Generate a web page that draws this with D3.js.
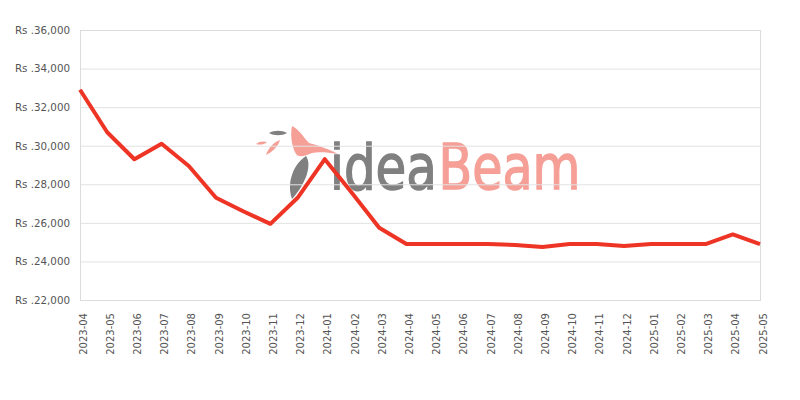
<!DOCTYPE html>
<html><head><meta charset="utf-8">
<script src="https://cdn.jsdelivr.net/npm/d3@7"></script>
<style>body{margin:0;background:#fff}svg{display:block}</style>
</head><body><svg id="c" width="800" height="400"></svg>
<script>
const months = ["2023-04","2023-05","2023-06","2023-07","2023-08","2023-09","2023-10","2023-11","2023-12","2024-01","2024-02","2024-03","2024-04","2024-05","2024-06","2024-07","2024-08","2024-09","2024-10","2024-11","2024-12","2025-01","2025-02","2025-03","2025-04","2025-05"];
const prices = [32900,30700,29300,30100,28950,27300,26600,25950,27300,29300,27550,25750,24900,24900,24900,24900,24850,24750,24900,24900,24800,24900,24900,24900,25400,24900];
const yTicks = [22000,24000,26000,28000,30000,32000,34000,36000];

const svg = d3.select("#c");
const m = {l:80, r:760, t:30, b:300};
const x = d3.scalePoint().domain(months).range([m.l, m.r]);
const y = d3.scaleLinear().domain([22000,36000]).range([m.b, m.t]);

// watermark
const wm = svg.append("g");
function wmText(str, x0, w, col){
  const t = wm.append("text").attr("x",0).attr("y",0).attr("font-family","DejaVu Sans").attr("font-size",63)
    .attr("fill",col).attr("stroke",col).attr("stroke-width",1.5).text(str);
  const nat = t.node().getComputedTextLength();
  t.attr("transform",`translate(${x0},189) scale(${w/nat},1)`);
}
wmText("idea", 330, 107, "#808080");
wmText("Beam", 438.5, 142, "#f59f97");
wm.append("path").attr("fill","#f59f97")
  .attr("d","M292,126 C299,129 304,138 309,143 C316,145 324,147 338,154 C326,152 318,152 312,153 C305,156 299,158 296,154 C292,147 290,136 292,126 Z");
wm.append("path").attr("fill","#808080")
  .attr("d","M306,156 C313,166 304,186 292,199 C287,186 291,166 306,156 Z");
wm.append("path").attr("fill","#808080")
  .attr("d","M269,133 C274,130 282,130 287,133 C282,136 274,136 269,133 Z");
wm.append("path").attr("fill","#f59f97")
  .attr("d","M256,144 C259,141 264,141 267,142 C264,145 259,145 256,144 Z");
wm.append("path").attr("fill","#f59f97")
  .attr("d","M266,155 C268,148 274,142 280,140 C278,147 272,152 266,155 Z");

// gridlines
svg.append("g").selectAll("line").data(yTicks).join("line")
  .attr("x1",m.l).attr("x2",m.r).attr("y1",d=>y(d)+0.5).attr("y2",d=>y(d)+0.5)
  .attr("stroke","#e2e2e2").attr("stroke-width",1);
// frame
svg.append("rect").attr("x",m.l+0.5).attr("y",m.t+0.5).attr("width",m.r-m.l).attr("height",m.b-m.t)
  .attr("fill","none").attr("stroke","#dcdcdc");

// y axis labels
const ya = svg.append("g").attr("transform",`translate(${m.l},0)`)
  .call(d3.axisLeft(y).tickValues(yTicks).tickSize(0).tickPadding(10).tickFormat(d=>"Rs ."+d3.format(",")(d)));
ya.select(".domain").remove();
ya.selectAll("text").attr("font-family","DejaVu Sans").attr("font-size",10.3).attr("fill","#555");

// x axis labels
const xa = svg.append("g").attr("transform",`translate(0,${m.b})`)
  .call(d3.axisBottom(x).tickSize(0).tickPadding(0));
xa.select(".domain").remove();
xa.selectAll("text").attr("font-family","DejaVu Sans").attr("font-size",10).attr("fill","#555")
  .attr("text-anchor","end").attr("dy",null).attr("y",0)
  .attr("transform","translate(6,13) rotate(-90)");

// line
svg.append("path").datum(prices)
  .attr("fill","none").attr("stroke","#ee3424").attr("stroke-width",4).attr("stroke-linejoin","round")
  .attr("d", d3.line().x((d,i)=>x(months[i])).y(d=>y(d)));
</script></body></html>
